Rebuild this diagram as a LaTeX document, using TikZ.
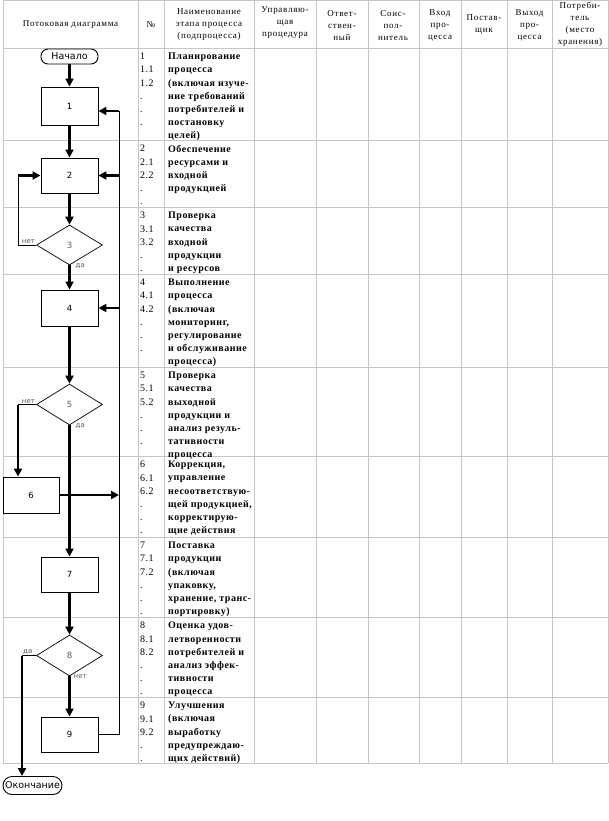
\documentclass[tikz,border=0pt]{standalone}
\usepackage{fontspec}
\setmainfont{Liberation Serif}
\newfontfamily\hdrfont[LetterSpace=8]{Liberation Serif}
\newfontfamily\txtfont[LetterSpace=5]{Liberation Serif}
\newfontfamily\flowfont{DejaVu Sans}
\usetikzlibrary{positioning,shapes.geometric,arrows.meta}

\tikzset{
  gridln/.style={gray!45, line width=0.8pt},
  hdr/.style={font=\hdrfont\fontsize{9}{12}\selectfont, align=center, inner sep=0pt},
  numtxt/.style={font=\txtfont\fontsize{10}{13.2}\selectfont, align=left, inner sep=0pt, anchor=north west},
  nametxt/.style={font=\txtfont\bfseries\fontsize{10}{13.2}\selectfont, align=left, inner sep=0pt, anchor=north west},
  blk/.style={draw, line width=0.9pt, minimum width=57pt, minimum height=36pt, inner sep=0pt, font=\flowfont\fontsize{8.5}{10}\selectfont},
  dec/.style={draw, diamond, line width=0.7pt, minimum width=66pt, minimum height=40pt, inner sep=0pt, text=gray!70!black, font=\flowfont\fontsize{8.5}{10}\selectfont},
  term/.style={draw, rounded corners=7pt, line width=0.9pt, inner sep=1pt, font=\flowfont\fontsize{9.5}{11}\selectfont},
  lbl/.style={font=\flowfont\fontsize{7}{8}\selectfont, text=gray!70!black, inner sep=1pt},
  flow/.style={line width=2.3pt, -{Triangle[length=8pt,width=8pt]}},
  fb/.style={line width=1pt},
}

\begin{document}
\begin{tikzpicture}[x=1pt,y=-1pt]
  \useasboundingbox (0,0) rectangle (609,821);
  % table grid
  \foreach \y in {0.5,48,140,207,274,367,456,537,617,697,763}
    \draw[gridln] (3,\y) -- (608,\y);
  \foreach \x in {3,138,164,254,316,368,419,461,507,552,608}
    \draw[gridln] (\x,0.5) -- (\x,763);

  % header
  \node[hdr] (h1) at (70.5,25) {Потоковая диаграмма};
  \node[hdr] (h2) at (151,25) {№};
  \node[hdr] (h3) at (209,25) {Наименование\\этапа процесса\\(подпроцесса)};
  \node[hdr] (h4) at (285,23) {Управляю-\\щая\\процедура};
  \node[hdr] (h5) at (342,25.5) {Ответ-\\ствен-\\ный};
  \node[hdr] (h6) at (393,25.5) {Соис-\\пол-\\нитель};
  \node[hdr] (h7) at (440,25.5) {Вход\\про-\\цесса};
  \node[hdr] (h8) at (484,24.5) {Постав-\\щик};
  \node[hdr] (h9) at (529.5,25.5) {Выход\\про-\\цесса};
  \node[hdr] (h10) at (580,24.5) {Потреби-\\тель\\(место\\хранения)};

  % stages
  \foreach \ry/\nums/\txt [count=\i] in {
    48/{1\\1.1\\1.2\\.\\.\\.}/{Планирование\\процесса\\(включая изуче-\\ние требований\\потребителей и\\постановку\\целей)},
    140/{2\\2.1\\2.2\\.\\.}/{Обеспечение\\ресурсами и\\входной\\продукцией},
    207/{3\\3.1\\3.2\\.\\.}/{Проверка\\качества\\входной\\продукции\\и ресурсов},
    274/{4\\4.1\\4.2\\.\\.\\.}/{Выполнение\\процесса\\(включая\\мониторинг,\\регулирование\\и обслуживание\\процесса)},
    367/{5\\5.1\\5.2\\.\\.\\.}/{Проверка\\качества\\выходной\\продукции и\\анализ резуль-\\тативности\\процесса},
    456/{6\\6.1\\6.2\\.\\.\\.}/{Коррекция,\\управление\\несоответствую-\\щей продукцией,\\корректирую-\\щие действия},
    537/{7\\7.1\\7.2\\.\\.\\.}/{Поставка\\продукции\\(включая\\упаковку,\\хранение, транс-\\портировку)},
    617/{8\\8.1\\8.2\\.\\.\\.}/{Оценка удов-\\летворенности\\потребителей и\\анализ эффек-\\тивности\\процесса},
    697/{9\\9.1\\9.2\\.\\.}/{Улучшения\\(включая\\выработку\\предупреждаю-\\щих действий)}}
  {
    \node[numtxt] (num\i) at (140,\ry+5) {\nums};
    \node[nametxt] (name\i) at (168,\ry+5) {\txt};
  }

  % flow chart
  \node[term, minimum width=57pt, minimum height=15pt] (start) at (69.5,56.5) {Начало};
  \node[blk, minimum height=38pt] (b1) at (69.5,106) {1};
  \node[blk, minimum height=35pt] (b2) at (69.5,175.5) {2};
  \node[dec] (d3) at (69.5,245) {3};
  \node[blk] (b4) at (69.5,308) {4};
  \node[dec, minimum height=41pt] (d5) at (69.5,404.5) {5};
  \node[blk, minimum width=56pt] (b6) at (31,495) {6};
  \node[blk, minimum height=35pt] (b7) at (69.5,574.5) {7};
  \node[dec, minimum height=41pt] (d8) at (69.5,655.5) {8};
  \node[blk, minimum height=35pt] (b9) at (69.5,734.5) {9};
  \node[term, minimum width=59pt, minimum height=18pt, rounded corners=9pt] (stop) at (32.5,785.5) {Окончание};

  \draw[flow] (start) -- (b1);
  \draw[flow] (b1) -- (b2);
  \draw[flow] (b2) -- (d3);
  \draw[flow] (d3) -- (b4);
  \draw[flow] (b4) -- (d5);
  \draw[flow] (d5) -- (b7);
  \draw[flow] (b7) -- (d8);
  \draw[flow] (d8) -- (b9);

  % return line on the right
  \coordinate (fbx) at (119,0);
  \coordinate (e1) at ([yshift=-5pt]b1.east);
  \draw[fb] (b9.east) -- (b9.east -| fbx) -- (e1 -| fbx);
  \draw[flow] (e1 -| fbx) -- (e1);
  \draw[flow] (b2.east -| fbx) -- (b2.east);
  \draw[flow] (b4.east -| fbx) -- (b4.east);
  \draw[flow] (b6.east) -- (b6.east -| fbx);

  % branches on the left
  \coordinate (lx) at (18,0);
  \coordinate (lx2) at (22,0);
  \draw[fb] (d3.west) -- (d3.west -| lx) -- (b2.west -| lx);
  \draw[flow] (b2.west -| lx) -- (b2.west);
  \draw[fb] (d5.west) -- (d5.west -| lx);
  \draw[flow] (d5.west -| lx) -- (b6.north -| lx);
  \draw[fb] (d8.west) -- (d8.west -| lx2);
  \draw[flow] (d8.west -| lx2) -- (stop.north -| lx2);

  \node[lbl, anchor=south east] (l3n) at (d3.west) {нет};
  \node[lbl, below right=-3pt and 5pt of d3.south] (l3y) {да};
  \node[lbl, anchor=south east] (l5n) at (d5.west) {нет};
  \node[lbl, below right=-3pt and 5pt of d5.south] (l5y) {да};
  \node[lbl, anchor=south west] (l8y) at (d8.west -| lx2) {да};
  \node[lbl, below right=-3pt and 3pt of d8.south] (l8n) {нет};
\end{tikzpicture}
\end{document}
